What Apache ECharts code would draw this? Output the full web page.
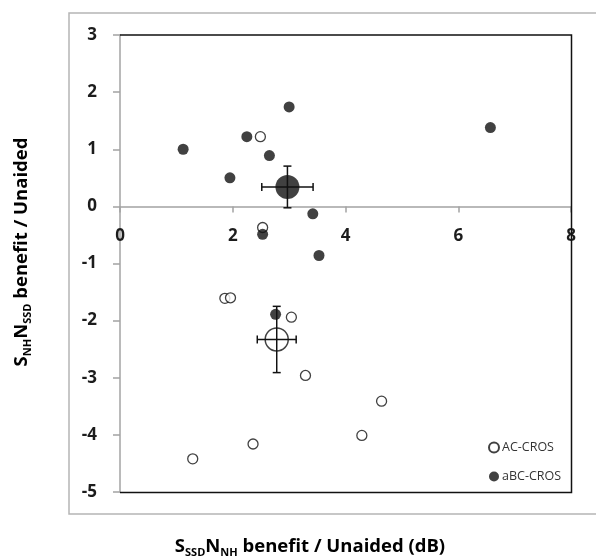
<!DOCTYPE html>
<html>
<head>
<meta charset="utf-8">
<script src="https://cdn.jsdelivr.net/npm/echarts@6/dist/echarts.min.js"></script>
<style>
  html, body { margin: 0; padding: 0; background: #fff; }
  #chart { width: 596px; height: 560px; }
</style>
</head>
<body>
<div id="chart"></div>
<script>
// Individual listeners: x = S_SSD N_NH benefit, y = S_NH N_SSD benefit (dB re. unaided)
const acX = [2.49, 2.53, 1.86, 1.96, 3.04, 3.29, 4.64, 4.29, 2.36, 1.29];
const acY = [1.22, -0.37, -1.61, -1.60, -1.94, -2.96, -3.41, -4.01, -4.16, -4.42];
const bcX = [1.12, 2.25, 3.00, 6.57, 2.65, 1.95, 3.42, 2.53, 3.53, 2.76];
const bcY = [1.00, 1.22, 1.74, 1.38, 0.89, 0.50, -0.13, -0.49, -0.86, -1.89];

// Group means with their spread (x error, y error)
const acMean = [2.78, -2.33];
const acErr = [0.345, 0.58];
const bcMean = [2.97, 0.34];
const bcErr = [0.455, 0.365];

const xTicks = [0, 2, 4, 6, 8];
const yTicks = [-5, -4, -3, -2, -1, 0, 1, 2, 3];

const FONT = '"Open Sans", "Noto Sans", sans-serif';
const AXIS_GRAY = '#a3a3a3';
const INK = '#111';

// Plot frame (pixels)
const GRID = { left: 120, top: 35, width: 451, height: 457 };
const yMin = yTicks[0], yMax = yTicks[yTicks.length - 1];
// the x axis sits on y = 0, so shift it up from the bottom edge
const xAxisShift = -GRID.height * (0 - yMin) / (yMax - yMin);

const pairs = (xs, ys) => xs.map((x, i) => [x, ys[i]]);

const chart = echarts.init(document.getElementById('chart'), null, { renderer: 'canvas' });

// Error bars drawn as a cross with small caps
function renderErrorBar(params, api) {
  const x = api.value(0), y = api.value(1);
  const ex = api.value(2), ey = api.value(3);
  const l = api.coord([x - ex, y]);
  const r = api.coord([x + ex, y]);
  const t = api.coord([x, y + ey]);
  const b = api.coord([x, y - ey]);
  const cap = 4;
  const style = { stroke: INK, lineWidth: 1.5 };
  const line = (x1, y1, x2, y2) => ({ type: 'line', shape: { x1, y1, x2, y2 }, style });
  return {
    type: 'group',
    children: [
      line(l[0], l[1], r[0], r[1]),
      line(t[0], t[1], b[0], b[1]),
      line(l[0], l[1] - cap, l[0], l[1] + cap),
      line(r[0], r[1] - cap, r[0], r[1] + cap),
      line(t[0] - cap, t[1], t[0] + cap, t[1]),
      line(b[0] - cap, b[1], b[0] + cap, b[1])
    ]
  };
}

const subRich = {
  a: { fontFamily: FONT, fontWeight: 'bold', fontSize: 18.5, color: '#1c1c1c' },
  s: { fontFamily: FONT, fontWeight: 'bold', fontSize: 11, color: '#1c1c1c', padding: [11, 0, 0, 0] }
};

const option = {
  animation: false,
  backgroundColor: '#fff',
  grid: Object.assign({ containLabel: false }, GRID),
  xAxis: {
    type: 'value',
    position: 'bottom',
    offset: xAxisShift,
    min: xTicks[0],
    max: xTicks[xTicks.length - 1],
    interval: 2,
    axisLine: { show: true, onZero: false, lineStyle: { color: AXIS_GRAY, width: 1.5 } },
    axisTick: { show: true, inside: false, length: 6, lineStyle: { color: AXIS_GRAY, width: 1.5 } },
    axisLabel: { margin: 21, fontFamily: FONT, fontWeight: 'bold', fontSize: 17, color: '#1c1c1c' },
    splitLine: { show: false }
  },
  yAxis: {
    type: 'value',
    min: yMin,
    max: yMax,
    interval: 1,
    axisLine: { show: true, onZero: false, lineStyle: { color: AXIS_GRAY, width: 1.5 } },
    axisTick: { show: true, inside: false, length: 7, lineStyle: { color: AXIS_GRAY, width: 1.5 } },
    axisLabel: { margin: 23, fontFamily: FONT, fontWeight: 'bold', fontSize: 17, color: '#1c1c1c' },
    splitLine: { show: false }
  },
  legend: {
    data: ['AC-CROS', 'aBC-CROS'],
    orient: 'vertical',
    left: 488,
    top: 441,
    padding: 0,
    itemWidth: 10,
    itemHeight: 10,
    itemGap: 16,
    icon: 'circle',
    textStyle: { fontFamily: FONT, fontSize: 12.5, color: '#333', padding: [0, 0, 0, -2] }
  },
  graphic: [
    {
      type: 'rect',
      shape: { x: 69, y: 13, width: 560, height: 501 },
      style: { fill: 'none', stroke: '#b5b5b5', lineWidth: 1.5 },
      silent: true, z: -1
    },
    {
      type: 'polyline',
      shape: { points: [[120, 35], [571.5, 35], [571.5, 492.5], [120, 492.5]] },
      style: { fill: 'none', stroke: INK, lineWidth: 1.5 },
      silent: true, z: 1
    },
    {
      type: 'text',
      x: 310, y: 547,
      style: {
        text: '{a|S}{s|SSD}{a|N}{s|NH}{a| benefit / Unaided (dB)}',
        rich: subRich,
        align: 'center',
        verticalAlign: 'middle'
      },
      silent: true
    },
    {
      type: 'text',
      x: 22, y: 252,
      rotation: Math.PI / 2,
      style: {
        text: '{a|S}{s|NH}{a|N}{s|SSD}{a| benefit / Unaided}',
        rich: subRich,
        align: 'center',
        verticalAlign: 'middle'
      },
      silent: true
    }
  ],
  series: [
    {
      name: 'AC-CROS',
      type: 'scatter',
      data: pairs(acX, acY),
      symbol: 'circle',
      symbolSize: 10,
      itemStyle: { color: '#fff', borderColor: INK, borderWidth: 1.3 },
      z: 3
    },
    {
      name: 'aBC-CROS',
      type: 'scatter',
      data: pairs(bcX, bcY),
      symbol: 'circle',
      symbolSize: 11,
      itemStyle: { color: INK, borderColor: INK, borderWidth: 0 },
      z: 3
    },
    {
      name: 'AC-CROS mean',
      type: 'scatter',
      data: [acMean],
      symbol: 'circle',
      symbolSize: 23,
      itemStyle: { color: '#fff', borderColor: INK, borderWidth: 1.5 },
      z: 4
    },
    {
      name: 'aBC-CROS mean',
      type: 'scatter',
      data: [bcMean],
      symbol: 'circle',
      symbolSize: 24,
      itemStyle: { color: INK },
      z: 4
    },
    {
      name: 'spread',
      type: 'custom',
      renderItem: renderErrorBar,
      encode: { x: 0, y: 1 },
      data: [
        [acMean[0], acMean[1], acErr[0], acErr[1]],
        [bcMean[0], bcMean[1], bcErr[0], bcErr[1]]
      ],
      z: 5
    }
  ]
};

chart.setOption(option);
</script>
</body>
</html>
